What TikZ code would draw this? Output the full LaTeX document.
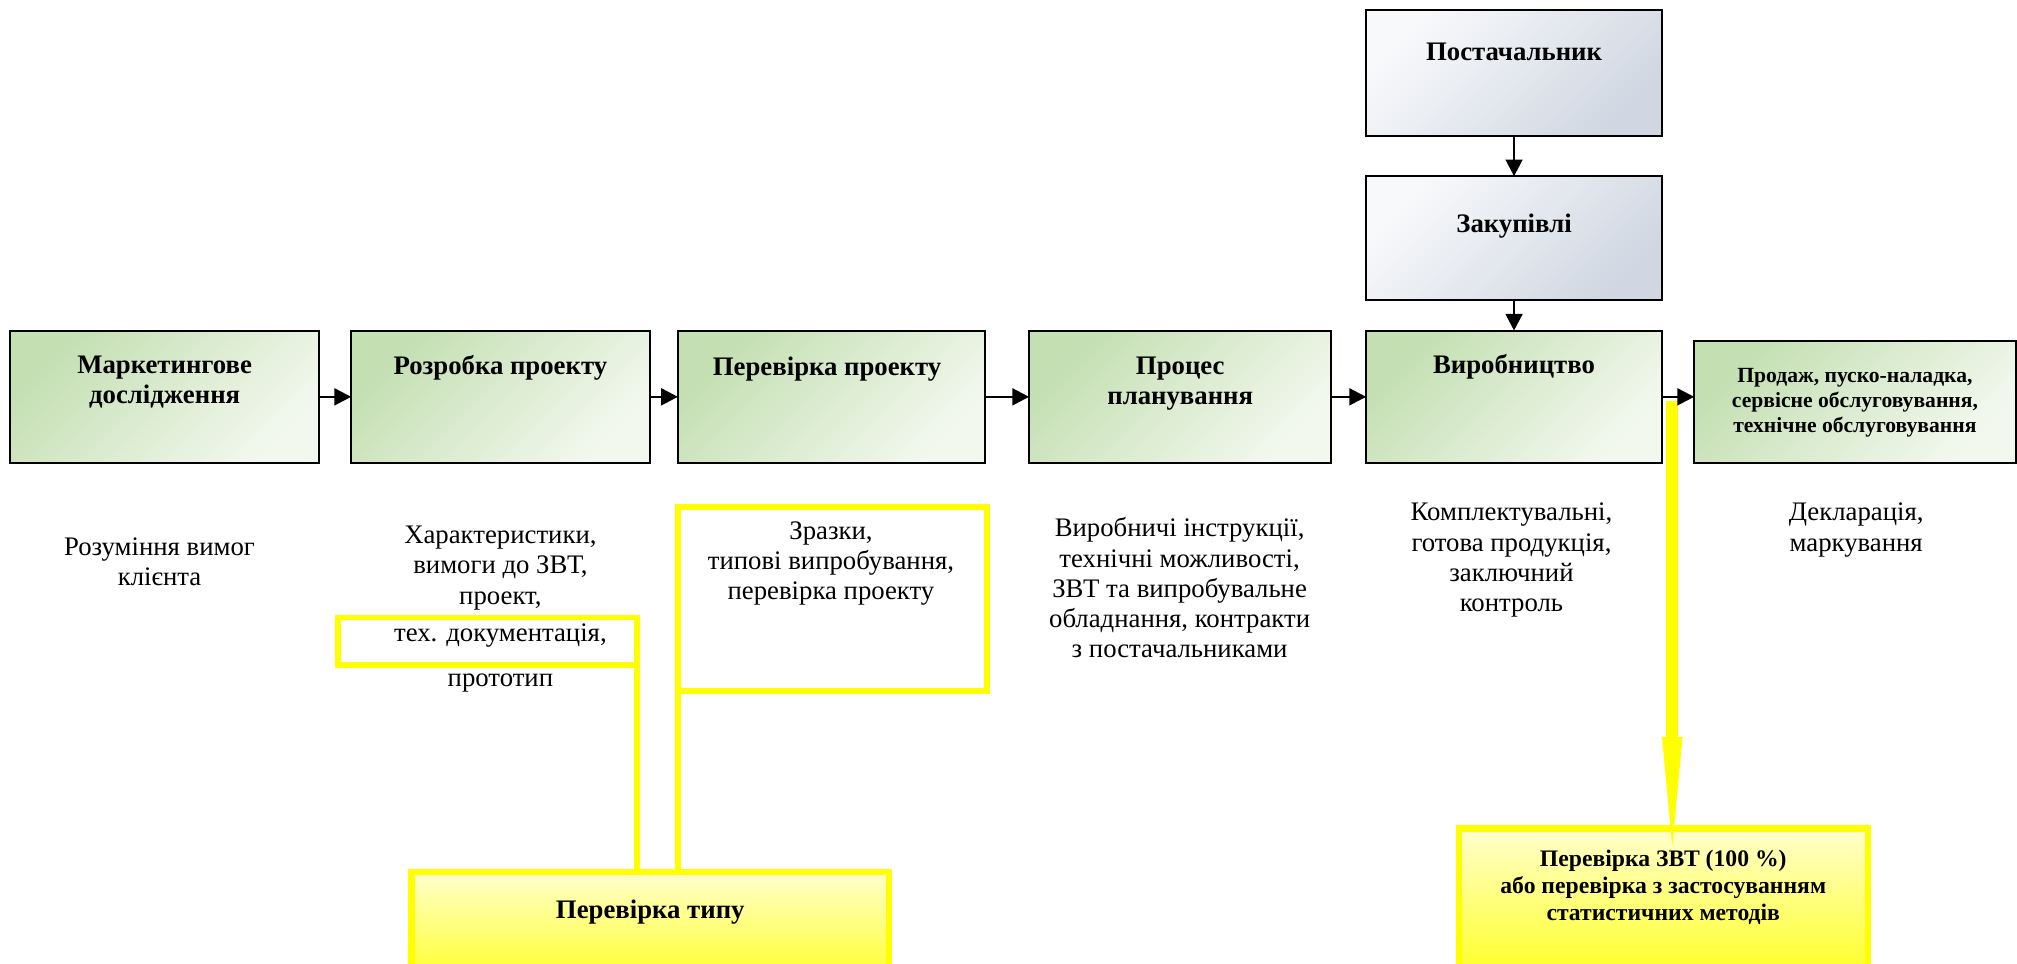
\documentclass[tikz,border=0pt]{standalone}
\usepackage{fontspec}
\setmainfont{Liberation Serif}
\usetikzlibrary{arrows.meta}
\definecolor{gA}{RGB}{196,223,178}
\definecolor{gB}{RGB}{243,248,239}
\definecolor{sA}{RGB}{248,249,251}
\definecolor{sB}{RGB}{208,215,226}
\definecolor{yA}{RGB}{255,255,205}
\definecolor{yB}{RGB}{255,255,30}
\definecolor{yL}{RGB}{255,255,0}
\begin{document}
\begin{tikzpicture}[x=1pt,y=-1pt,
  box/.style={draw=black, line width=1.6pt, inner sep=0pt, outer sep=0pt, anchor=north west},
  gbox/.style={box, top color=gA, bottom color=gB, shading angle=45},
  sbox/.style={box, top color=sA, bottom color=sB, shading angle=45},
  yframe/.style={draw=yL, line width=4.5pt, inner sep=0pt, outer sep=0pt, anchor=north west},
  ybox/.style={draw=yL, line width=5pt, inner sep=0pt, outer sep=0pt, anchor=north west, top color=yA, bottom color=yB},
  ttl/.style={font=\bfseries\fontsize{20.8}{23.5}\selectfont, align=center, inner sep=0pt},
  sttl/.style={font=\bfseries\fontsize{16.8}{19.5}\selectfont, align=center, inner sep=0pt},
  yttl/.style={font=\bfseries\fontsize{18.4}{20.8}\selectfont, align=center, inner sep=0pt},
  txt/.style={font=\fontsize{20.8}{23.5}\selectfont, align=center, inner sep=0pt},
  arr/.style={line width=2pt, -{Triangle[length=13pt,width=13pt]}},
  yline/.style={draw=yL, line width=4.5pt},
  yarr/.style={draw=yL, line width=9pt, -{Triangle[length=85pt,width=16pt,line width=0pt]}}
]
\useasboundingbox (0,0) rectangle (1568,749.4);
\clip (0,0) rectangle (1568,749.4);

% main row
\node[gbox, minimum width=240pt, minimum height=103pt] (b1) at (8,257) {};
\node[gbox, minimum width=232pt, minimum height=103pt] (b2) at (273,257) {};
\node[gbox, minimum width=239pt, minimum height=103pt] (b3) at (527,257) {};
\node[gbox, minimum width=235pt, minimum height=103pt] (b4) at (800,257) {};
\node[gbox, minimum width=230pt, minimum height=103pt] (b5) at (1062,257) {};
\node[gbox, minimum width=250pt, minimum height=95pt] (b6) at (1317,265) {};
\node[sbox, minimum width=230pt, minimum height=98pt] (post) at (1062,8) {};
\node[sbox, minimum width=230pt, minimum height=96pt] (zak) at (1062,137) {};

\node[ttl] (t1) at (128,297) {Маркетингове\\дослідження};
\node[ttl] (t2) at (389,286) {Розробка проекту};
\node[ttl] (t3) at (643,287) {Перевірка проекту};
\node[ttl] (t4) at (917.5,298) {Процес\\планування};
\node[ttl] (t5) at (1177,285) {Виробництво};
\node[ttl] (tp) at (1177,40) {Постачальник};
\node[ttl] (tz) at (1177,176) {Закупівлі};
\node[sttl] (t6) at (1442,313) {Продаж, пуско-наладка,\\сервісне обслуговування,\\технічне обслуговування};

% yellow frames and boxes
\node[yframe, minimum width=232pt, minimum height=37pt] (tf) at (263,480) {};
\node[yframe, minimum width=240pt, minimum height=143pt] (zf) at (527,394) {};
\node[ybox, minimum width=371pt, minimum height=90pt] (pt) at (320,678) {};
\node[ybox, minimum width=318pt, minimum height=120pt] (ybr) at (1134,644) {};
\draw[yline] (tf.south east) -- (tf.south east |- pt.north);
\draw[yline] (zf.south west) -- (zf.south west |- pt.north);
\node[ttl] (tpt) at (505.5,709) {Перевірка типу};
\node[yttl] (tybr) at (1293,690) {Перевірка ЗВТ (100 \%)\\або перевірка з застосуванням\\статистичних методів};

% yellow arrow
\coordinate (ys) at (1300,312);
\draw[yarr, shorten >=-14pt] (ys) -- (ys |- ybr.north);

% black arrows
\draw[arr] (b1.east) -- (b2.west);
\draw[arr] (b2.east) -- (b3.west);
\draw[arr] (b3.east) -- (b4.west);
\draw[arr] (b4.east) -- (b5.west);
\draw[arr] (b5.east) -- (b5.east -| b6.west);
\draw[arr] (post.south) -- (zak.north);
\draw[arr] (zak.south) -- (b5.north);

% descriptive texts
\node[txt] (d1) at (124,436.5) {Розуміння вимог\\клієнта};
\node[txt] (d2) at (389,441.6) {Характеристики,\\вимоги до ЗВТ,\\проект,};
\node[txt] (d2b) at (389,493.7) {тех. документація,};
\node[txt] (d2c) at (389,531) {прототип};
\node[txt] (d3) at (646,438) {Зразки,\\типові випробування,\\перевірка проекту};
\node[txt] (d4) at (917,457) {Виробничі інструкції,\\технічні можливості,\\ЗВТ та випробувальне\\обладнання, контракти\\з постачальниками};
\node[txt] (d5) at (1175,435.5) {Комплектувальні,\\готова продукція,\\заключний\\контроль};
\node[txt] (d6) at (1443,412) {Декларація,\\маркування};
\end{tikzpicture}
\end{document}
